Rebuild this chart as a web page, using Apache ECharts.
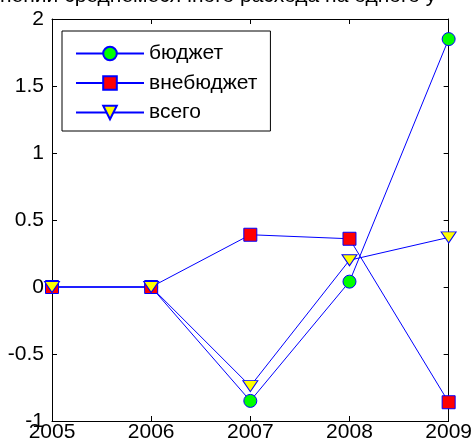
<!DOCTYPE html>
<html>
<head>
<meta charset="utf-8">
<script src="https://cdn.jsdelivr.net/npm/echarts@6/dist/echarts.min.js"></script>
<style>
html,body{margin:0;padding:0;background:#fff;}
#c{width:475px;height:448px;}
</style>
</head>
<body>
<div id="c"></div>
<script>
const years = ['2005', '2006', '2007', '2008', '2009'];
const budget = [0, 0, -0.85, 0.04, 1.85];
const offBudget = [0, 0, 0.39, 0.36, -0.86];
const total = [0, 0, -0.74, 0.2, 0.37];
const seriesNames = ['бюджет', 'внебюджет', 'всего'];
const titleText = 'нении среднемесячного расхода на одного у';

const FONT = '"Liberation Sans", Arial, sans-serif';
const FS = 21;

const chart = echarts.init(document.getElementById('c'));
const lineStyle = {color: '#0000ff', width: 1};
const boxLine = {onZero: false, show: true, lineStyle: {color: '#000', width: 1}};
const tick = {show: true, inside: true, length: 5, lineStyle: {color: '#000'}};
chart.setOption({
  animation: false,
  backgroundColor: '#fff',
  title: {
    text: titleText, left: 0, top: -14, padding: 0,
    textStyle: {fontFamily: FONT, fontSize: FS, fontWeight: 'normal', color: '#000'}
  },
  grid: {left: 52, right: 23, top: 19, bottom: 27, containLabel: false},
  legend: {
    orient: 'vertical', left: 62, top: 31, width: 210,
    padding: [12, 13, 8, 13],
    itemWidth: 68, itemHeight: 17, itemGap: 8.5,
    backgroundColor: '#fff', borderColor: '#000', borderWidth: 1,
    textStyle: {fontFamily: FONT, fontSize: FS, color: '#000'},
    data: seriesNames
  },
  xAxis: [{
    type: 'category', data: years, boundaryGap: false, position: 'bottom',
    axisLine: boxLine, axisTick: tick,
    axisLabel: {fontFamily: FONT, fontSize: FS, color: '#000', margin: 1},
    splitLine: {show: false}
  }, {
    type: 'category', data: years, boundaryGap: false, position: 'top',
    axisLine: boxLine, axisTick: tick,
    axisLabel: {show: false}, splitLine: {show: false}
  }],
  yAxis: [{
    type: 'value', min: -1, max: 2, interval: 0.5, position: 'left',
    axisLine: boxLine, axisTick: tick,
    axisLabel: {fontFamily: FONT, fontSize: FS, color: '#000', margin: 8},
    splitLine: {show: false}
  }, {
    type: 'value', min: -1, max: 2, interval: 0.5, position: 'right',
    axisLine: boxLine, axisTick: tick,
    axisLabel: {show: false}, splitLine: {show: false}
  }],
  series: [{
    name: seriesNames[0], type: 'line', data: budget,
    symbol: 'circle', symbolSize: 13,
    lineStyle: lineStyle,
    itemStyle: {color: '#00ff00', borderColor: '#0000ff', borderWidth: 1}
  }, {
    name: seriesNames[1], type: 'line', data: offBudget,
    symbol: 'rect', symbolSize: 13,
    lineStyle: lineStyle,
    itemStyle: {color: '#ff0000', borderColor: '#0000ff', borderWidth: 1}
  }, {
    name: seriesNames[2], type: 'line', data: total,
    symbol: 'triangle', symbolSize: [15, 11], symbolRotate: 180,
    lineStyle: lineStyle,
    itemStyle: {color: '#ffff00', borderColor: '#0000ff', borderWidth: 1}
  }]
});
</script>
</body>
</html>
